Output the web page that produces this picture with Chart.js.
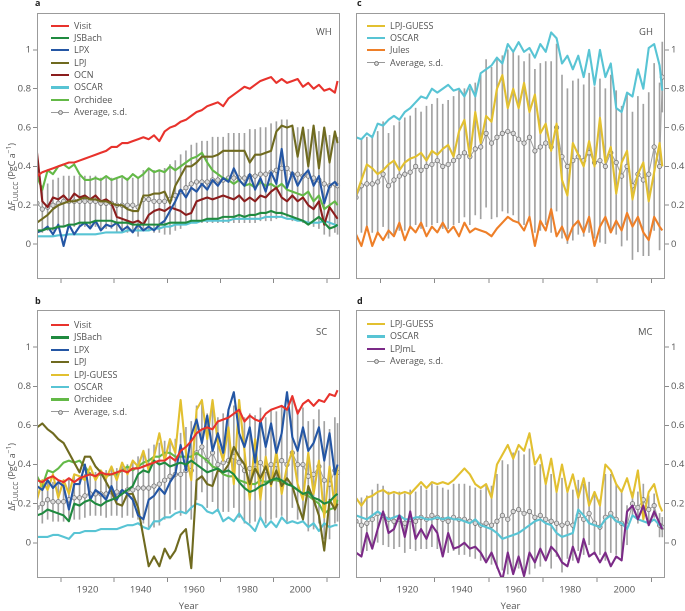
<!DOCTYPE html>
<html><head><meta charset="utf-8">
<script src="https://cdn.jsdelivr.net/npm/chart.js@4.4.1/dist/chart.umd.min.js"></script>
<style>
body{margin:0;background:#fff;width:685px;height:611px;position:relative;overflow:hidden;font-family:"Open Sans",sans-serif;color:#555}
canvas{position:absolute}
.pl{position:absolute;font-weight:bold;font-size:9px;color:#222;line-height:9px}
.rg{position:absolute;font-size:9.5px;color:#555;line-height:10px}
.yt{position:absolute;font-size:9px;color:#555;white-space:nowrap;transform:translate(-50%,-50%) rotate(-90deg)}
.yt sub,.yt sup{font-size:6.5px}
.leg{position:absolute;font-size:9px;color:#555}
.leg .row{position:relative;height:12.4px;line-height:12.4px;padding-left:23px;white-space:nowrap}
.leg .sw{position:absolute;left:0;top:5px;width:18px;height:2.2px}
.leg .sa{position:absolute;left:0;top:5.7px;width:18px;height:1px;background:#999}
.leg .dot{position:absolute;left:7px;top:4px;width:3px;height:3px;border-radius:50%;background:#ddd;border:0.8px solid #777}
</style>
</head><body>
<canvas id="ca" style="left:0;top:0"></canvas>
<canvas id="cb" style="left:0;top:300px"></canvas>
<canvas id="cc" style="left:345px;top:0"></canvas>
<canvas id="cd" style="left:345px;top:300px"></canvas>
<script>
// ---------- data ----------
const years = [1901,1903,1905,1907,1909,1911,1913,1915,1917,1919,1921,1923,1925,1927,1929,1931,1933,1935,1937,1939,1941,1943,1945,1947,1949,1951,1953,1955,1957,1959,1961,1963,1965,1967,1969,1971,1973,1975,1977,1979,1981,1983,1985,1987,1989,1991,1993,1995,1997,1999,2001,2003,2005,2007,2009,2011,2013,2014];
const xTicks = [1920,1940,1960,1980,2000];
const yTicks = [0,0.2,0.4,0.6,0.8,1];

// panel a : WH
const whVisit = [.35,.37,.38,.39,.40,.41,.42,.42,.43,.44,.45,.46,.47,.48,.50,.50,.52,.52,.53,.54,.55,.54,.56,.53,.58,.60,.61,.63,.64,.66,.68,.69,.71,.72,.73,.71,.75,.77,.79,.81,.80,.82,.84,.85,.86,.83,.85,.83,.84,.85,.81,.83,.80,.82,.79,.80,.78,.84];
const whJSBach = [.07,.07,.08,.08,.09,.09,.10,.10,.11,.11,.11,.12,.12,.12,.12,.11,.11,.11,.10,.10,.10,.10,.10,.10,.10,.11,.11,.11,.11,.12,.12,.12,.13,.13,.13,.14,.14,.14,.15,.14,.15,.15,.16,.16,.17,.16,.16,.15,.14,.13,.12,.10,.12,.14,.11,.08,.09,.10];
const whLPX = [.06,.07,.09,.05,.10,-.01,.10,.05,.09,.11,.08,.12,.07,.10,.09,.11,.07,.09,.06,.10,.07,.09,.07,.10,.12,.17,.22,.28,.24,.29,.27,.31,.28,.33,.30,.34,.32,.39,.33,.30,.36,.28,.34,.27,.37,.31,.49,.29,.37,.30,.35,.38,.30,.35,.21,.30,.32,.30];
const whLPJ = [.11,.13,.15,.18,.20,.21,.22,.22,.23,.24,.23,.23,.22,.22,.21,.20,.20,.18,.17,.17,.25,.25,.26,.26,.27,.21,.30,.35,.40,.40,.42,.45,.45,.45,.46,.48,.48,.48,.48,.48,.42,.46,.46,.47,.48,.58,.61,.60,.61,.45,.60,.40,.61,.39,.60,.42,.58,.52];
const whOCN = [.47,.22,.19,.24,.23,.25,.22,.26,.24,.25,.23,.25,.22,.23,.21,.14,.13,.12,.11,.12,.10,.15,.17,.18,.17,.19,.18,.17,.15,.16,.22,.23,.24,.23,.24,.25,.24,.23,.25,.22,.24,.22,.25,.24,.27,.29,.24,.22,.25,.22,.24,.20,.18,.22,.10,.19,.15,.13];
const whOSCAR = [.04,.04,.04,.04,.045,.045,.05,.05,.05,.05,.05,.05,.055,.06,.06,.06,.06,.07,.07,.07,.07,.07,.08,.08,.09,.09,.10,.10,.10,.11,.11,.12,.12,.12,.12,.12,.12,.13,.13,.13,.13,.13,.13,.14,.14,.14,.14,.13,.13,.12,.12,.11,.11,.11,.12,.11,.10,.09];
const whOrchidee = [.35,.28,.38,.36,.40,.41,.39,.41,.36,.33,.33,.34,.33,.35,.33,.34,.35,.33,.36,.34,.36,.39,.37,.38,.37,.40,.38,.40,.42,.44,.45,.47,.42,.38,.36,.34,.33,.31,.33,.30,.31,.29,.32,.30,.31,.29,.31,.28,.27,.26,.25,.27,.22,.25,.18,.20,.22,.20];
const whAvg = [.21,.18,.19,.20,.21,.22,.22,.22,.22,.22,.22,.22,.21,.21,.21,.20,.20,.20,.20,.19,.23,.23,.22,.22,.22,.23,.25,.27,.29,.31,.32,.32,.32,.33,.33,.33,.34,.34,.34,.34,.35,.35,.36,.36,.37,.38,.39,.39,.36,.36,.35,.35,.34,.33,.31,.30,.31,.30];
const whSd = [.11,.12,.12,.13,.13,.13,.13,.13,.13,.13,.13,.13,.13,.13,.13,.14,.14,.14,.14,.15,.15,.16,.16,.16,.17,.18,.18,.19,.19,.20,.20,.21,.21,.22,.22,.22,.23,.23,.23,.23,.24,.24,.24,.24,.25,.25,.25,.25,.24,.24,.24,.24,.25,.25,.26,.26,.25,.25];

// panel b : SC
const scVisit = [.32,.31,.33,.34,.32,.31,.33,.31,.33,.34,.35,.34,.36,.35,.35,.36,.37,.36,.38,.38,.39,.40,.41,.42,.42,.44,.42,.47,.49,.52,.56,.58,.59,.58,.62,.63,.64,.66,.68,.62,.65,.63,.62,.66,.68,.69,.70,.68,.75,.66,.71,.73,.70,.73,.72,.76,.75,.78];
const scJSBach = [.14,.15,.17,.16,.15,.14,.11,.20,.19,.21,.22,.20,.19,.21,.22,.23,.25,.27,.29,.35,.37,.36,.42,.40,.41,.39,.40,.41,.40,.42,.40,.38,.36,.37,.38,.36,.37,.35,.31,.28,.26,.27,.29,.30,.32,.33,.32,.30,.29,.27,.25,.26,.23,.22,.20,.21,.24,.25];
const scLPX = [.29,.27,.32,.28,.31,.29,.17,.30,.30,.40,.22,.27,.25,.22,.29,.22,.27,.25,.22,.14,.12,.22,.24,.28,.25,.31,.35,.50,.37,.55,.63,.51,.65,.47,.56,.46,.68,.77,.56,.49,.59,.41,.63,.49,.61,.46,.56,.77,.54,.47,.59,.47,.51,.59,.42,.56,.35,.40];
const scLPJ = [.59,.61,.58,.56,.53,.51,.46,.41,.36,.44,.44,.39,.36,.31,.26,.20,.19,.25,.25,.18,.03,-.12,-.07,-.12,-.03,-.08,-.04,.04,.07,-.13,.32,.34,.30,.29,.37,.36,.40,.49,.44,.40,.30,.38,.33,.39,.30,.37,.29,.33,.29,.20,.12,.29,.22,.14,-.04,.22,.17,.20];
const scLPJGUESS = [.22,.32,.27,.35,.23,.32,.25,.35,.34,.32,.39,.32,.37,.33,.39,.32,.41,.35,.42,.39,.47,.37,.44,.56,.42,.53,.46,.73,.46,.32,.68,.73,.53,.73,.51,.42,.59,.30,.73,.47,.22,.53,.22,.44,.29,.47,.25,.39,.47,.30,.22,.46,.25,.42,.13,.39,.18,.39];
const scOSCAR = [.03,.03,.03,.04,.04,.03,.02,.05,.05,.06,.06,.06,.07,.07,.07,.07,.08,.09,.09,.10,.08,.07,.11,.11,.13,.13,.15,.16,.15,.18,.20,.19,.16,.15,.17,.11,.13,.11,.15,.11,.09,.06,.13,.08,.11,.08,.13,.10,.11,.10,.11,.08,.10,.06,.10,.08,.09,.09];
const scOrchidee = [.34,.29,.37,.36,.38,.41,.42,.41,.42,.39,.35,.34,.35,.34,.35,.35,.37,.39,.37,.39,.41,.42,.44,.44,.46,.46,.44,.44,.44,.44,.46,.44,.42,.39,.38,.35,.34,.34,.32,.31,.30,.30,.32,.31,.32,.32,.31,.30,.29,.27,.25,.24,.22,.20,.15,.17,.18,.22];
const scAvg = [.18,.20,.22,.21,.21,.21,.22,.23,.23,.24,.25,.25,.25,.25,.26,.26,.26,.27,.27,.28,.28,.28,.29,.30,.32,.34,.35,.35,.37,.37,.46,.49,.42,.46,.40,.41,.42,.44,.41,.37,.38,.38,.41,.37,.40,.40,.42,.40,.46,.40,.40,.34,.35,.39,.32,.30,.37,.36];
const scSd = [.10,.10,.10,.10,.10,.10,.10,.11,.11,.11,.11,.11,.11,.12,.12,.12,.13,.13,.14,.16,.18,.20,.21,.21,.20,.19,.18,.21,.22,.25,.24,.23,.24,.25,.24,.25,.26,.26,.28,.27,.28,.27,.28,.27,.28,.27,.28,.29,.28,.28,.29,.28,.28,.29,.30,.28,.27,.25];

// panel c : GH
const ghLPJGUESS = [.25,.33,.41,.39,.36,.38,.41,.43,.38,.42,.44,.45,.47,.43,.48,.46,.49,.51,.45,.58,.64,.45,.68,.52,.66,.63,.80,.87,.70,.80,.70,.83,.68,.77,.57,.62,.48,.62,.33,.25,.52,.46,.40,.53,.40,.65,.42,.50,.26,.42,.48,.23,.36,.42,.22,.37,.52,.40];
const ghOSCAR = [.55,.54,.57,.55,.62,.61,.64,.66,.64,.68,.70,.73,.76,.75,.80,.78,.80,.82,.79,.80,.76,.82,.76,.88,.90,.92,.96,.93,1.03,.99,1.04,.99,1.01,.96,1.03,.99,1.09,1.06,.93,.97,.90,.97,.86,1.00,.82,1.00,.86,.93,.70,.68,.78,.76,.90,.80,1.01,1.03,.92,.79];
const ghJules = [.05,-.01,.09,-.01,.06,.02,.07,.04,.11,.02,.09,.06,.11,.04,.09,.06,.11,.06,.09,.04,.11,.06,.08,.07,.06,.04,.08,.11,.14,.12,.11,.07,.14,-.01,.12,.07,.18,.04,.09,.02,.09,.12,.06,.14,-.01,.09,.14,.06,.12,.07,.16,.09,.14,.06,.02,.14,.09,.07];
const ghAvg = [.24,.30,.31,.31,.32,.36,.30,.33,.35,.36,.37,.40,.38,.40,.41,.43,.40,.41,.43,.45,.47,.45,.49,.50,.57,.52,.55,.57,.58,.57,.54,.52,.55,.48,.50,.52,.50,.60,.45,.40,.43,.45,.43,.47,.42,.43,.40,.47,.42,.35,.40,.30,.36,.33,.36,.50,.40,.86];
const ghSd = [.25,.24,.24,.25,.26,.27,.27,.28,.28,.29,.29,.30,.30,.31,.31,.32,.32,.33,.33,.34,.33,.35,.34,.37,.38,.39,.41,.40,.42,.42,.43,.42,.43,.42,.43,.42,.44,.43,.42,.40,.41,.40,.39,.41,.39,.42,.40,.40,.37,.36,.38,.38,.40,.39,.42,.43,.43,.18];

// panel d : MC
const mcLPJGUESS = [.23,.19,.23,.24,.26,.27,.25,.26,.25,.26,.25,.28,.31,.28,.31,.30,.31,.30,.32,.35,.38,.35,.30,.28,.30,.23,.40,.45,.50,.43,.50,.47,.56,.40,.45,.30,.43,.26,.40,.26,.35,.23,.33,.19,.26,.19,.40,.37,.30,.26,.33,.23,.37,.12,.26,.30,.19,.16];
const mcOSCAR = [.14,.13,.12,.14,.16,.14,.12,.13,.14,.12,.12,.13,.13,.12,.12,.13,.12,.13,.12,.12,.11,.10,.12,.09,.08,.07,.05,.02,.03,.04,.05,.07,.09,.11,.12,.10,.09,.05,.03,.04,.05,.17,.14,.10,.09,.08,.12,.14,.11,.10,.07,.14,.12,.11,.10,.12,.09,.08];
const mcLPJmL = [-.05,-.07,.05,-.03,.07,.16,.05,.07,.14,.03,.16,.02,.07,.02,.09,.05,-.07,.05,-.03,-.02,.00,-.03,-.02,-.05,-.10,-.05,-.12,-.19,-.05,-.16,-.07,-.17,-.05,-.10,-.03,-.09,-.02,-.05,-.10,-.12,-.02,-.10,.02,-.07,-.05,-.10,-.05,-.12,-.07,-.09,.16,.19,.12,.19,.09,.16,.10,.07];
const mcAvg = [.11,.09,.10,.12,.15,.14,.12,.11,.12,.10,.12,.11,.13,.12,.14,.13,.12,.11,.13,.12,.12,.11,.10,.09,.10,.09,.11,.14,.12,.16,.17,.15,.16,.13,.14,.12,.11,.10,.09,.10,.09,.14,.12,.15,.10,.08,.13,.15,.12,.10,.09,.20,.18,.22,.17,.19,.09,.08];
const mcSd = [.14,.14,.14,.15,.15,.15,.14,.14,.14,.15,.15,.15,.16,.15,.16,.16,.16,.16,.17,.18,.18,.18,.18,.18,.19,.20,.24,.28,.28,.30,.30,.30,.32,.26,.26,.21,.24,.17,.24,.18,.18,.18,.18,.16,.16,.14,.22,.20,.18,.17,.10,.06,.08,.08,.07,.06,.06,.05];

// ---------- styles ----------
const COL = {Visit:'#e8322c', JSBach:'#1f8a3f', LPX:'#2456a4', LPJ:'#6f6a1f', OCN:'#8b1d1d', OSCAR:'#58c4d4', Orchidee:'#63b947', 'LPJ-GUESS':'#e2c030', Jules:'#ee7f28', LPJmL:'#7b2a87'};
const FONT = 'Open Sans';

const frame = {id:'frame', afterDatasetsDraw(c){
  const a=c.chartArea, ctx=c.ctx; ctx.save(); ctx.strokeStyle='#9b9b9b'; ctx.lineWidth=1;
  ctx.strokeRect(Math.round(a.left)+0.5, Math.round(a.top)+0.5, Math.round(a.right-a.left)-1, Math.round(a.bottom-a.top)-1);
  ctx.restore();
}};

function makePanel(id, W, H, series, avg, sd, cfg){
  const cv=document.getElementById(id); cv.width=W; cv.height=H; cv.style.width=W+'px'; cv.style.height=H+'px';
  const ds=[];
  ds.push({type:'bar', label:'sd', data: years.map((y,i)=>({x:y, y:[avg[i]-sd[i], avg[i]+sd[i]]})), backgroundColor:'#a2a2a2', barThickness:1, order:100});
  ds.push({type:'line', label:'Average, s.d.', data: years.map((y,i)=>({x:y, y:avg[i]})), borderColor:'#a0a0a0', borderWidth:1, pointRadius:2.2, pointBackgroundColor:'#d9d9d9', pointBorderColor:'#777', pointBorderWidth:0.8, order:50});
  series.forEach((s,k)=>ds.push({type:'line', label:s.name, data: years.map((y,i)=>({x:y, y:s.values[i]})), borderColor:COL[s.name], borderWidth:2.1, pointRadius:0, tension:0, order:20-k, borderJoinStyle:'round'}));
  new Chart(cv, {
    type:'bar',
    data:{datasets:ds},
    options:{
      responsive:false, animation:false, devicePixelRatio:2,
      layout:{padding:cfg.pad},
      plugins:{legend:{display:false}, tooltip:{enabled:false}},
      scales:{
        x:{type:'linear', min:1901, max:2015, offset:false,
          afterBuildTicks:s=>{s.ticks=xTicks.map(v=>({value:v}));},
          afterFit:s=>{s.height=cfg.xh;},
          grid:{display:true, drawOnChartArea:false, drawTicks:true, tickLength:4, color:'#8a8a8a'},
          border:{display:false},
          ticks:{display:cfg.xLabels, color:'#555', font:{family:FONT,size:9.5}, padding:2, maxRotation:0, callback:v=>String(v)},
          title:{display:cfg.xLabels, text:'Year', color:'#555', font:{family:FONT,size:9.5,lineHeight:1}, padding:{top:0,bottom:0}}
        },
        y:{type:'linear', position:cfg.yPos, min:-0.18, max:1.19,
          afterBuildTicks:s=>{s.ticks=yTicks.map(v=>({value:v}));},
          afterFit:s=>{s.width=cfg.yw;},
          grid:{display:true, drawOnChartArea:false, drawTicks:true, tickLength:4, color:'#8a8a8a'},
          border:{display:false},
          ticks:{color:'#555', font:{family:FONT,size:9.5}, padding:2, callback:v=>String(v)}
        }
      }
    },
    plugins:[frame]
  });
}

makePanel('ca', 345, 300,
  [{name:'Visit',values:whVisit},{name:'JSBach',values:whJSBach},{name:'LPX',values:whLPX},{name:'LPJ',values:whLPJ},{name:'OCN',values:whOCN},{name:'OSCAR',values:whOSCAR},{name:'Orchidee',values:whOrchidee}].reverse(),
  whAvg, whSd, {pad:{top:13,right:2,left:0,bottom:0}, xh:21, yw:37, yPos:'left', xLabels:false});
makePanel('cb', 345, 311,
  [{name:'Visit',values:scVisit},{name:'JSBach',values:scJSBach},{name:'LPX',values:scLPX},{name:'LPJ',values:scLPJ},{name:'LPJ-GUESS',values:scLPJGUESS},{name:'OSCAR',values:scOSCAR},{name:'Orchidee',values:scOrchidee}].reverse(),
  scAvg, scSd, {pad:{top:10,right:2,left:0,bottom:0}, xh:33, yw:37, yPos:'left', xLabels:true});
makePanel('cc', 340, 300,
  [{name:'LPJ-GUESS',values:ghLPJGUESS},{name:'OSCAR',values:ghOSCAR},{name:'Jules',values:ghJules}],
  ghAvg, ghSd, {pad:{top:13,right:0,left:11,bottom:0}, xh:21, yw:20, yPos:'right', xLabels:false});
makePanel('cd', 340, 311,
  [{name:'LPJ-GUESS',values:mcLPJGUESS},{name:'OSCAR',values:mcOSCAR},{name:'LPJmL',values:mcLPJmL}],
  mcAvg, mcSd, {pad:{top:10,right:0,left:11,bottom:0}, xh:33, yw:20, yPos:'right', xLabels:true});

// ---------- legends & labels ----------
function legend(x, y, names){
  const d=document.createElement('div'); d.className='leg'; d.style.left=x+'px'; d.style.top=y+'px';
  names.forEach(n=>{ const r=document.createElement('div'); r.className='row';
    r.innerHTML='<span class="sw" style="background:'+COL[n]+'"></span>'+n; d.appendChild(r); });
  const r=document.createElement('div'); r.className='row';
  r.innerHTML='<span class="sa"></span><span class="dot"></span>Average, s.d.'; d.appendChild(r);
  document.body.appendChild(d);
}
legend(51, 19.5, ['Visit','JSBach','LPX','LPJ','OCN','OSCAR','Orchidee']);
legend(51, 319, ['Visit','JSBach','LPX','LPJ','LPJ-GUESS','OSCAR','Orchidee']);
legend(367, 19.5, ['LPJ-GUESS','OSCAR','Jules']);
legend(367, 318, ['LPJ-GUESS','OSCAR','LPJmL']);

function txt(cls, x, y, html){ const d=document.createElement('div'); d.className=cls; d.style.left=x+'px'; d.style.top=y+'px'; d.innerHTML=html; document.body.appendChild(d); }
txt('pl', 35, -2, 'a'); txt('pl', 35, 296, 'b'); txt('pl', 357, -2, 'c'); txt('pl', 357, 296, 'd');
txt('rg', 316, 27, 'WH'); txt('rg', 639, 27, 'GH'); txt('rg', 316, 327, 'SC'); txt('rg', 638, 327, 'MC');
const yt='Δ<i>F</i><sub>LULCC</sub> (PgC a<sup>−1</sup>)';
txt('yt', 12, 177, yt); txt('yt', 12, 477, yt);
</script>
</body></html>
